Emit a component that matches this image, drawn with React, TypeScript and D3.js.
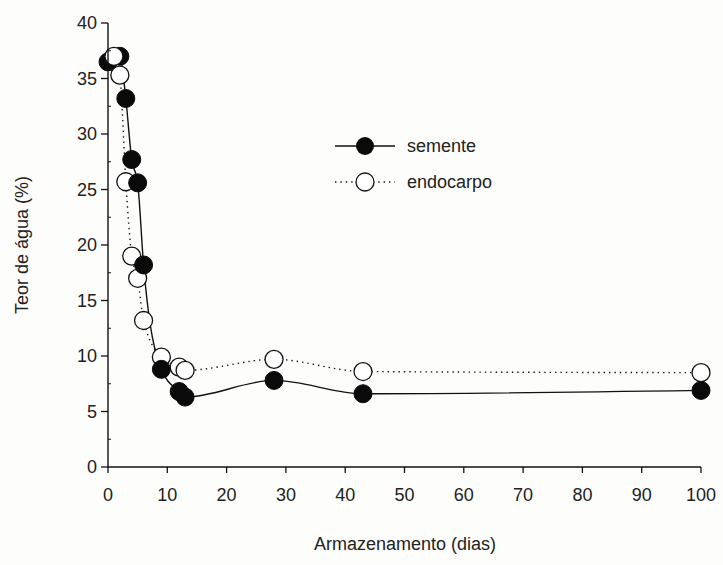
import React from "react";
import * as d3 from "d3";

// Storage time (days) and water content (%) for each tissue
const sementeDias = [0, 2, 3, 4, 5, 6, 9, 12, 13, 28, 43, 100];
const sementeTeor = [36.5, 37, 33.2, 27.7, 25.6, 18.2, 8.8, 6.8, 6.3, 7.8, 6.6, 6.9];

const endocarpoDias = [1, 2, 3, 4, 5, 6, 9, 12, 13, 28, 43, 100];
const endocarpoTeor = [37, 35.3, 25.7, 19, 17, 13.2, 9.9, 9.0, 8.7, 9.7, 8.6, 8.5];

const xTicks = [0, 10, 20, 30, 40, 50, 60, 70, 80, 90, 100];
const yTicks = [0, 5, 10, 15, 20, 25, 30, 35, 40];
const yMinorTicks = [2.5, 7.5, 12.5, 17.5, 22.5, 27.5, 32.5, 37.5];

const W = 723;
const H = 565;
const FONT = "'Liberation Sans', Arial, sans-serif";
const R = 9;

export default function App() {
  const x = d3.scaleLinear().domain([0, 100]).range([108, 701]);
  const y = d3.scaleLinear().domain([0, 40]).range([467, 23]);

  const semente = sementeDias.map((d, i) => [d, sementeTeor[i]] as [number, number]);
  const endocarpo = endocarpoDias.map((d, i) => [d, endocarpoTeor[i]] as [number, number]);

  const line = d3
    .line<[number, number]>()
    .x((d) => x(d[0]))
    .y((d) => y(d[1]))
    .curve(d3.curveMonotoneX);

  const x0 = x(0);
  const y0 = y(0);

  const openCircle = (d: [number, number], key: string) => (
    <circle key={key} cx={x(d[0])} cy={y(d[1])} r={R} fill="#fff" stroke="#111" strokeWidth={1.3} />
  );
  const filledCircle = (d: [number, number], key: string) => (
    <circle key={key} cx={x(d[0])} cy={y(d[1])} r={R} fill="#0a0a0a" stroke="#0a0a0a" strokeWidth={1} />
  );

  return (
    <svg
      width={W}
      height={H}
      style={{ position: "absolute", left: 0, top: 0, background: "#fdfdfb" }}
      fontFamily={FONT}
    >
      <rect width={W} height={H} fill="#fdfdfb" />

      {/* series lines */}
      <path d={line(endocarpo) || ""} fill="none" stroke="#111" strokeWidth={1.4} strokeDasharray="1.4 4" />
      <path d={line(semente) || ""} fill="none" stroke="#111" strokeWidth={1.4} />

      {/* markers: the first two days sit under the open symbols, the rest on top */}
      {semente.filter((d) => d[0] <= 2).map((d, i) => filledCircle(d, "s0" + i))}
      {endocarpo.map((d, i) => openCircle(d, "e" + i))}
      {semente.filter((d) => d[0] > 2).map((d, i) => filledCircle(d, "s1" + i))}

      {/* axes */}
      <line x1={x0} x2={x0} y1={y(40)} y2={y0} stroke="#111" strokeWidth={1.4} />
      <line x1={x0} x2={x(100)} y1={y0} y2={y0} stroke="#111" strokeWidth={1.4} />
      {yTicks.map((t) => (
        <g key={"yt" + t}>
          <line x1={x0 - 7} x2={x0} y1={y(t)} y2={y(t)} stroke="#111" strokeWidth={1.3} />
          <text x={x0 - 11} y={y(t)} dy="0.35em" textAnchor="end" fontSize={18} fill="#222">
            {t}
          </text>
        </g>
      ))}
      {yMinorTicks.map((t) => (
        <line key={"ym" + t} x1={x0} x2={x0 + 3} y1={y(t)} y2={y(t)} stroke="#111" strokeWidth={1} />
      ))}
      {xTicks.map((t) => (
        <g key={"xt" + t}>
          <line x1={x(t)} x2={x(t)} y1={y0} y2={y0 + 6} stroke="#111" strokeWidth={1.3} />
          <text x={x(t)} y={y0 + 28} dy="0.35em" textAnchor="middle" fontSize={18} fill="#222">
            {t}
          </text>
        </g>
      ))}

      {/* axis titles */}
      <text x={405} y={550} textAnchor="middle" fontSize={18} fill="#222">
        Armazenamento (dias)
      </text>
      <text
        transform={`translate(28, ${245}) rotate(-90)`}
        textAnchor="middle"
        fontSize={18}
        fill="#222"
      >
        Teor de água (%)
      </text>

      {/* legend */}
      <g>
        <line x1={335} x2={395} y1={146} y2={146} stroke="#111" strokeWidth={1.4} />
        <circle cx={365} cy={146} r={R} fill="#0a0a0a" />
        <text x={407} y={146} dy="0.35em" fontSize={18} fill="#222">
          semente
        </text>
        <line x1={335} x2={395} y1={182} y2={182} stroke="#111" strokeWidth={1.4} strokeDasharray="1.4 4" />
        <circle cx={365} cy={182} r={R} fill="#fff" stroke="#111" strokeWidth={1.3} />
        <text x={407} y={182} dy="0.35em" fontSize={18} fill="#222">
          endocarpo
        </text>
      </g>
    </svg>
  );
}
